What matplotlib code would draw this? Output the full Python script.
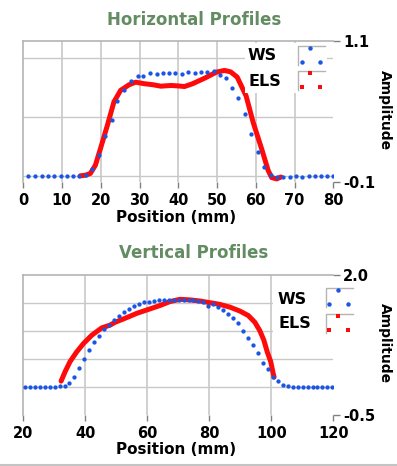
import matplotlib
matplotlib.use("Agg")
import matplotlib.pyplot as plt
from matplotlib.patches import Rectangle
from matplotlib.lines import Line2D

plt.rcParams['font.family'] = ['DejaVu Sans']
plt.rcParams['font.weight'] = 'bold'

# horizontal profiles
h_ws_x = [1.3, 3.0, 4.8, 6.3, 7.9, 9.6, 11.3, 12.8, 14.5, 16.3, 17.8, 19.5, 21.0, 22.8,
          24.3, 26.0, 27.7, 29.5, 30.9, 32.6, 34.4, 36.0, 37.6, 39.2, 40.9, 42.6, 44.2,
          45.9, 47.5, 49.1, 50.8, 52.4, 53.9, 55.5, 57.1, 58.8, 60.6, 62.1, 63.8, 65.4,
          67.1, 68.7, 70.4, 71.9, 73.6, 75.3, 76.9, 78.5, 79.9]
h_ws_y = [0, 0, 0, 0, 0, 0, 0, 0, 0, 0.01, 0.06, 0.18, 0.335, 0.477,
          0.636, 0.727, 0.806, 0.85, 0.85, 0.874, 0.863, 0.871, 0.871, 0.871, 0.863, 0.88, 0.874,
          0.88, 0.882, 0.888, 0.854, 0.834, 0.75, 0.664, 0.528, 0.36, 0.20, 0.073, 0.011, -0.01,
          -0.008, -0.008, -0.003, -0.006, -0.003, -0.005, -0.003, -0.005, -0.005]
h_els_x = [14.7, 16.0, 17.3, 18.6, 19.9, 21.7, 23.4, 25.1, 27.3, 29.0, 31.2, 33.5, 35.5,
           38.1, 40.0, 41.6, 43.7, 46.8, 49.8, 51.9, 53.5, 55.2, 57.5, 59.3, 61.5, 63.2,
           64.1, 65.4, 66.5]
h_els_y = [0.0, 0.005, 0.02, 0.09, 0.23, 0.43, 0.63, 0.727, 0.775, 0.797, 0.784, 0.775, 0.763,
           0.769, 0.765, 0.76, 0.784, 0.831, 0.882, 0.897, 0.885, 0.84, 0.68, 0.457, 0.23, 0.045,
           -0.015, -0.026, -0.01]

# vertical profiles
v_ws_x = [20.5, 22.1, 23.7, 25.3, 26.9, 28.5, 30.1, 31.7, 33.3, 34.9, 36.5, 38.1, 39.7, 41.3,
          42.9, 44.5, 46.1, 47.7, 49.3, 50.9, 52.5, 54.1, 55.7, 57.3, 58.9, 60.5, 62.1, 63.7,
          65.3, 66.9, 68.5, 70.1, 71.7, 73.3, 74.9, 76.5, 78.1, 79.7, 81.3, 82.9, 84.5, 86.1,
          87.7, 89.3, 90.9, 92.5, 94.1, 95.7, 97.3, 98.9, 100.5, 102.1, 103.7, 105.3, 106.9,
          108.5, 110.1, 111.7, 113.3, 114.9, 116.5, 118.1, 119.7]
v_ws_y = [0, 0, 0, 0, 0, 0, 0, 0.005, 0.02, 0.07, 0.18, 0.33, 0.50, 0.65,
          0.80, 0.91, 1.03, 1.10, 1.19, 1.27, 1.33, 1.39, 1.44, 1.48, 1.51, 1.52, 1.53, 1.54,
          1.54, 1.55, 1.55, 1.55, 1.55, 1.55, 1.54, 1.53, 1.52, 1.45, 1.47, 1.42, 1.37, 1.30,
          1.22, 1.14, 0.99, 0.87, 0.74, 0.60, 0.43, 0.31, 0.17, 0.10, 0.035, 0.005, 0,
          0, 0, 0, 0, 0, 0, 0, 0]
v_els_x = [32.2, 33.5, 35.1, 37.2, 39.4, 42.1, 45.3, 48.0, 49.6, 52.3, 54.5, 56.6, 60.9, 64.1,
           67.3, 70.5, 73.8, 77.0, 80.2, 83.4, 86.7, 89.9, 92.6, 94.7, 96.3, 97.6, 98.7,
           99.8, 100.6, 100.9]
v_els_y = [0.10, 0.27, 0.45, 0.62, 0.77, 0.92, 1.05, 1.10, 1.15, 1.21, 1.26, 1.31, 1.39, 1.45,
           1.52, 1.56, 1.55, 1.53, 1.50, 1.47, 1.42, 1.35, 1.27, 1.15, 1.00, 0.83, 0.62,
           0.45, 0.24, 0.17]

h_xticks = [0, 10, 20, 30, 40, 50, 60, 70, 80]
v_xticks = [20, 40, 60, 80, 100, 120]
h_ylim = (-0.05, 1.15)
v_ylim = (-0.5, 2.0)
h_ylabels = ['-0.1', '1.1']
v_ylabels = ['-0.5', '2.0']
h_ygrid = [0, 0.5, 1.0]
v_ygrid = [0, 0.5, 1.0, 1.5]

W, H = 397, 466
blue = '#1a55e3'
red = '#ff0a0a'
grid_c = '#c8c8c8'
title_c = '#638c63'

fig = plt.figure(figsize=(W / 100, H / 100), dpi=100)


def px(x, y):
    return x / W, 1 - y / H


def panel(rect, xticks, ylim, ylabels, ygrid, ws_x, ws_y, els_x, els_y):
    ax = fig.add_axes(rect)
    for v in xticks[1:-1]:
        ax.axvline(v, color=grid_c, lw=1.2, zorder=0)
    for v in ygrid:
        ax.axhline(v, color=grid_c, lw=1.0, zorder=0)
    ax.plot(els_x, els_y, color=red, lw=3.6, solid_capstyle='round',
            solid_joinstyle='round', zorder=2)
    ax.plot(ws_x, ws_y, 'o', color=blue, ms=3.1, mew=0, zorder=3)
    ax.set_xlim(xticks[0], xticks[-1])
    ax.set_ylim(*ylim)
    ax.set_xticks(xticks)
    ax.set_xticklabels([str(t) for t in xticks], fontsize=10.5, fontweight='bold')
    ax.yaxis.tick_right()
    ax.set_yticks(list(ylim))
    ax.set_yticklabels(ylabels, fontsize=10.5, fontweight='bold')
    ax.tick_params(axis='x', colors='#808080', length=4, width=1, pad=4, labelcolor='black')
    ax.tick_params(axis='y', colors='#808080', length=5, width=1, pad=2, labelcolor='black')
    for s in ['bottom', 'right']:
        ax.spines[s].set_visible(False)
    for s in ['top', 'left']:
        ax.spines[s].set_color('#b4b4b4')
        ax.spines[s].set_linewidth(1.2)
    return ax


def legend(x_text, y_ws, y_els, bx, by_ws, by_els, bg):
    x0, y0 = px(bg[0], bg[3])
    x1, y1 = px(bg[2], bg[1])
    fig.add_artist(Rectangle((x0, y0), x1 - x0, y1 - y0, transform=fig.transFigure,
                             facecolor='white', edgecolor='none', zorder=5))
    for name, yt, by, col, mk in [('WS', y_ws, by_ws, blue, 'o'), ('ELS', y_els, by_els, red, 's')]:
        tx, ty = px(x_text, yt)
        fig.text(tx, ty, name, fontsize=11.5, fontweight='bold', va='center', ha='left', zorder=6)
        a = px(bx, by)
        b = px(bx + 27, by)
        c = px(bx, by + 19)
        fig.add_artist(Line2D([c[0], a[0], b[0]], [c[1], a[1], b[1]], transform=fig.transFigure,
                              color='#b4b4b4', lw=1.0, zorder=6))
        mx = [px(bx + 12, by + 2), px(bx + 3.5, by + 16), px(bx + 22, by + 16)]
        fig.add_artist(Line2D([m[0] for m in mx], [m[1] for m in mx], transform=fig.transFigure,
                              ls='none', marker=mk, ms=3.2 if mk == 'o' else 2.8, mew=0,
                              color=col, zorder=7))


ax1 = panel([23.3 / W, 1 - 181.7 / H, 310 / W, 141 / H], h_xticks, h_ylim, h_ylabels, h_ygrid,
            h_ws_x, h_ws_y, h_els_x, h_els_y)
ax2 = panel([23.3 / W, 1 - 414.7 / H, 310 / W, 140 / H], v_xticks, v_ylim, v_ylabels, v_ygrid,
            v_ws_x, v_ws_y, v_els_x, v_els_y)

for title, y_title, y_xlab, y_amp in [('Horizontal Profiles', 20, 217, 110),
                                      ('Vertical Profiles', 253, 450, 343)]:
    fig.text(*px(194, y_title), title, fontsize=12, fontweight='bold', color=title_c,
             ha='center', va='center')
    fig.text(*px(176, y_xlab), 'Position (mm)', fontsize=11, fontweight='bold',
             ha='center', va='center')
    fig.text(*px(385, y_amp), 'Amplitude', fontsize=10, fontweight='bold', rotation=270,
             ha='center', va='center')

legend(248, 56, 81, 298, 46, 71, (245, 43, 327, 93))
legend(278, 300, 324, 325.7, 288, 314, (273, 283, 353, 336))

fig.add_artist(Line2D([0, 1], [1.5 / H, 1.5 / H], transform=fig.transFigure,
                      color='#c4c4c4', lw=1.5))

fig.savefig('out.png', dpi=100, facecolor='white')
